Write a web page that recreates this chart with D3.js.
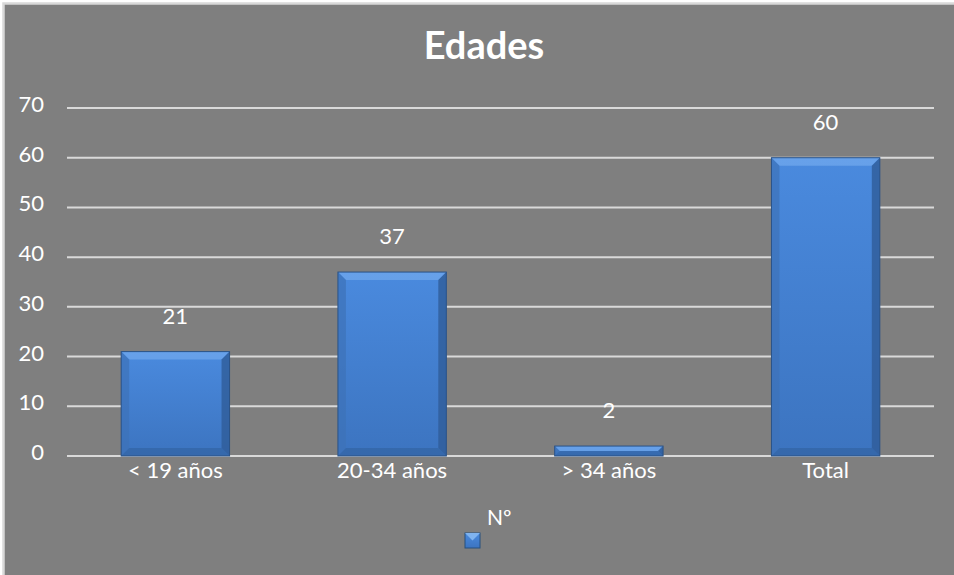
<!DOCTYPE html>
<html><head><meta charset="utf-8">
<script src="https://cdn.jsdelivr.net/npm/d3@7"></script>
<style>html,body{margin:0;padding:0;background:#fff;}svg{display:block;}</style>
</head><body>
<script>
const categories = ["< 19 años", "20-34 años", "> 34 años", "Total"];
const values = [21, 37, 2, 60];
const yTicks = [0, 10, 20, 30, 40, 50, 60, 70];
const title = "Edades";
const seriesName = "Nº";

const W = 954, H = 575;
const svg = d3.select("body").append("svg").attr("width", W).attr("height", H);
const font = "Lato, 'Open Sans', sans-serif";

svg.append("rect").attr("x", 0).attr("y", 0).attr("width", W).attr("height", H).attr("fill", "#ffffff");
svg.append("rect").attr("x", 3.5).attr("y", 3.5).attr("width", W).attr("height", H)
  .attr("fill", "#7f7f7f").attr("stroke", "#d9d9d9").attr("stroke-width", 2.5);

const defs = svg.append("defs");
const g1 = defs.append("linearGradient").attr("id", "barG").attr("x1", 0).attr("y1", 0).attr("x2", 0).attr("y2", 1);
g1.append("stop").attr("offset", "0%").attr("stop-color", "#4a8ade");
g1.append("stop").attr("offset", "100%").attr("stop-color", "#3c74c0");

const x = d3.scaleBand().domain(categories).range([67, 934]).paddingInner(0.5).paddingOuter(0.25);
const y = d3.scaleLinear().domain([0, 70]).range([456, 108]);

// gridlines
svg.append("g").selectAll("line").data(yTicks).join("line")
  .attr("x1", 67).attr("x2", 934)
  .attr("y1", d => y(d)).attr("y2", d => y(d))
  .attr("stroke", "#d9d9d9").attr("stroke-width", 2);

// y tick labels
svg.append("g").selectAll("text").data(yTicks).join("text")
  .attr("x", 44).attr("y", d => y(d) + 4)
  .attr("text-anchor", "end").attr("fill", "#ffffff")
  .attr("font-family", font).attr("font-size", 22)
  .text(d => d);

// bars
const bars = svg.append("g").selectAll("g").data(categories).join("g");
bars.each(function(c, i) {
  const gg = d3.select(this);
  const x0 = x(c), bw = x.bandwidth(), yt = y(values[i]), hb = y(0) - yt;
  const b = Math.min(8, hb / 2, bw / 2);
  gg.append("rect").attr("x", x0).attr("y", yt).attr("width", bw).attr("height", hb)
    .attr("fill", "url(#barG)");
  gg.append("path").attr("d", `M${x0},${yt}L${x0+bw},${yt}L${x0+bw-b},${yt+b}L${x0+b},${yt+b}Z`)
    .attr("fill", "#6ea6ec").attr("opacity", 0.8);
  gg.append("path").attr("d", `M${x0},${yt}L${x0+b},${yt+b}L${x0+b},${yt+hb-b}L${x0},${yt+hb}Z`)
    .attr("fill", "#3d72b8").attr("opacity", 0.7);
  gg.append("path").attr("d", `M${x0+bw},${yt}L${x0+bw-b},${yt+b}L${x0+bw-b},${yt+hb-b}L${x0+bw},${yt+hb}Z`)
    .attr("fill", "#2f5c98").attr("opacity", 0.8);
  gg.append("path").attr("d", `M${x0},${yt+hb}L${x0+b},${yt+hb-b}L${x0+bw-b},${yt+hb-b}L${x0+bw},${yt+hb}Z`)
    .attr("fill", "#30609f").attr("opacity", 0.6);
  gg.append("rect").attr("x", x0).attr("y", yt).attr("width", bw).attr("height", hb)
    .attr("fill", "none").attr("stroke", "#2a5286").attr("stroke-width", 1);
});

// value labels
svg.append("g").selectAll("text").data(categories).join("text")
  .attr("x", c => x(c) + x.bandwidth() / 2)
  .attr("y", (c, i) => y(values[i]) - 28)
  .attr("text-anchor", "middle").attr("fill", "#ffffff")
  .attr("font-family", font).attr("font-size", 22)
  .text((c, i) => values[i]);

// x axis labels
svg.append("g").selectAll("text").data(categories).join("text")
  .attr("x", c => x(c) + x.bandwidth() / 2)
  .attr("y", 478)
  .attr("text-anchor", "middle").attr("fill", "#ffffff")
  .attr("font-family", font).attr("font-size", 22)
  .text(c => c);

// title
svg.append("text").attr("x", 484).attr("y", 59).attr("text-anchor", "middle")
  .attr("fill", "#ffffff").attr("font-family", font).attr("font-weight", "bold")
  .attr("font-size", 38).text(title);

// legend
svg.append("text").attr("x", 487).attr("y", 525).attr("fill", "#ffffff")
  .attr("font-family", font).attr("font-size", 21).text(seriesName);
const lx = 465, ly = 533, ls = 15;
svg.append("rect").attr("x", lx).attr("y", ly).attr("width", ls).attr("height", ls)
  .attr("fill", "url(#barG)").attr("stroke", "#27507f");
svg.append("path").attr("d", `M${lx},${ly}L${lx+ls},${ly}L${lx+ls/2},${ly+ls/2}Z`).attr("fill", "#7fb3ef");
</script>
</body></html>
